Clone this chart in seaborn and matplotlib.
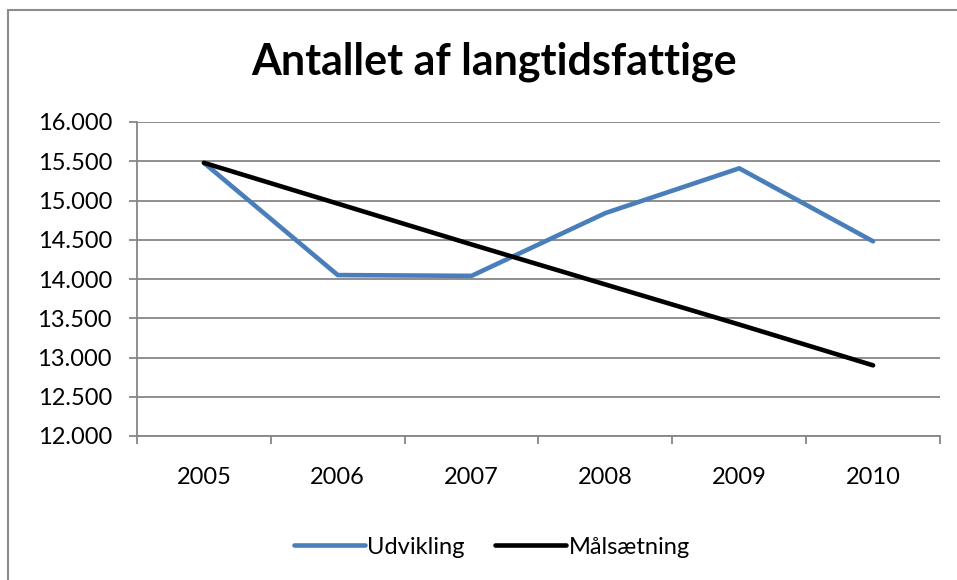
import numpy as np
import pandas as pd
import matplotlib.pyplot as plt
import seaborn as sns
from matplotlib.patches import Rectangle
from matplotlib.ticker import FuncFormatter, FixedLocator

# data
years = ["2005", "2006", "2007", "2008", "2009", "2010"]
udvikling = [15480, 14050, 14040, 14840, 15410, 14480]
maalsaetning = [15480, 14960, 14440, 13930, 13420, 12900]

df = pd.DataFrame({
    "x": list(range(len(years))) * 2,
    "value": udvikling + maalsaetning,
    "serie": ["Udvikling"] * len(years) + ["Målsætning"] * len(years),
})

sns.set_style("white")
plt.rcParams["font.family"] = ["Lato", "DejaVu Sans"]
plt.rcParams["text.color"] = "black"
plt.rcParams["xtick.labelcolor"] = "black"
plt.rcParams["ytick.labelcolor"] = "black"

fig = plt.figure(figsize=(9.57, 5.8), dpi=100)
ax = fig.add_axes([137 / 957, 1 - 436 / 580, (940 - 137) / 957, (436 - 122) / 580])

# outer chart frame (cut off on the right and bottom)
fig.patches.append(Rectangle((8 / 957, -0.1), 1.2, 1 - 10 / 580 + 0.1,
                             transform=fig.transFigure, fill=False,
                             edgecolor="#8c8c8c", lw=1.5))

sns.lineplot(data=df, x="x", y="value", hue="serie", ax=ax,
             palette={"Udvikling": "#4a7ebb", "Målsætning": "#000000"},
             lw=3.3, solid_capstyle="round", legend=True)

ax.set_xlim(-0.5, len(years) - 0.5)
ax.set_ylim(12000, 16000)
ax.set_yticks(np.arange(12000, 16001, 500))
ax.yaxis.set_major_formatter(FuncFormatter(lambda v, p: f"{int(v):,}".replace(",", ".")))
ax.set_xticks(range(len(years)))
ax.set_xticklabels(years)
ax.xaxis.set_minor_locator(FixedLocator(np.arange(-0.5, len(years), 1.0)))
ax.tick_params(axis="x", which="major", bottom=False, length=0, pad=22, labelsize=17,
               labelcolor="black")
ax.tick_params(axis="x", which="minor", bottom=True, length=6, color="#868686", width=1.3,
               direction="out")
ax.tick_params(axis="y", left=True, length=6, color="#868686", width=1.3, direction="out",
               labelsize=17, pad=12, labelcolor="black")
ax.grid(axis="y", color="#868686", lw=1.3)
ax.set_axisbelow(True)
for s in ["top", "right"]:
    ax.spines[s].set_visible(False)
for s in ["left", "bottom"]:
    ax.spines[s].set_color("#868686")
    ax.spines[s].set_linewidth(1.3)
ax.set_xlabel("")
ax.set_ylabel("")

fig.text(494 / 957, 1 - 62 / 580, "Antallet af langtidsfattige", ha="center", va="center",
         fontsize=31, fontweight="bold", color="black")

handles, labels = ax.get_legend_handles_labels()
leg = ax.legend(handles, labels, loc="center", bbox_to_anchor=(492 / 957, 1 - 547 / 580),
                bbox_transform=fig.transFigure, ncol=2, frameon=False, fontsize=17,
                handlelength=3.0, handletextpad=0.1, columnspacing=1.3)
for t in leg.get_texts():
    t.set_color("black")

fig.savefig("out.png", dpi=100)
